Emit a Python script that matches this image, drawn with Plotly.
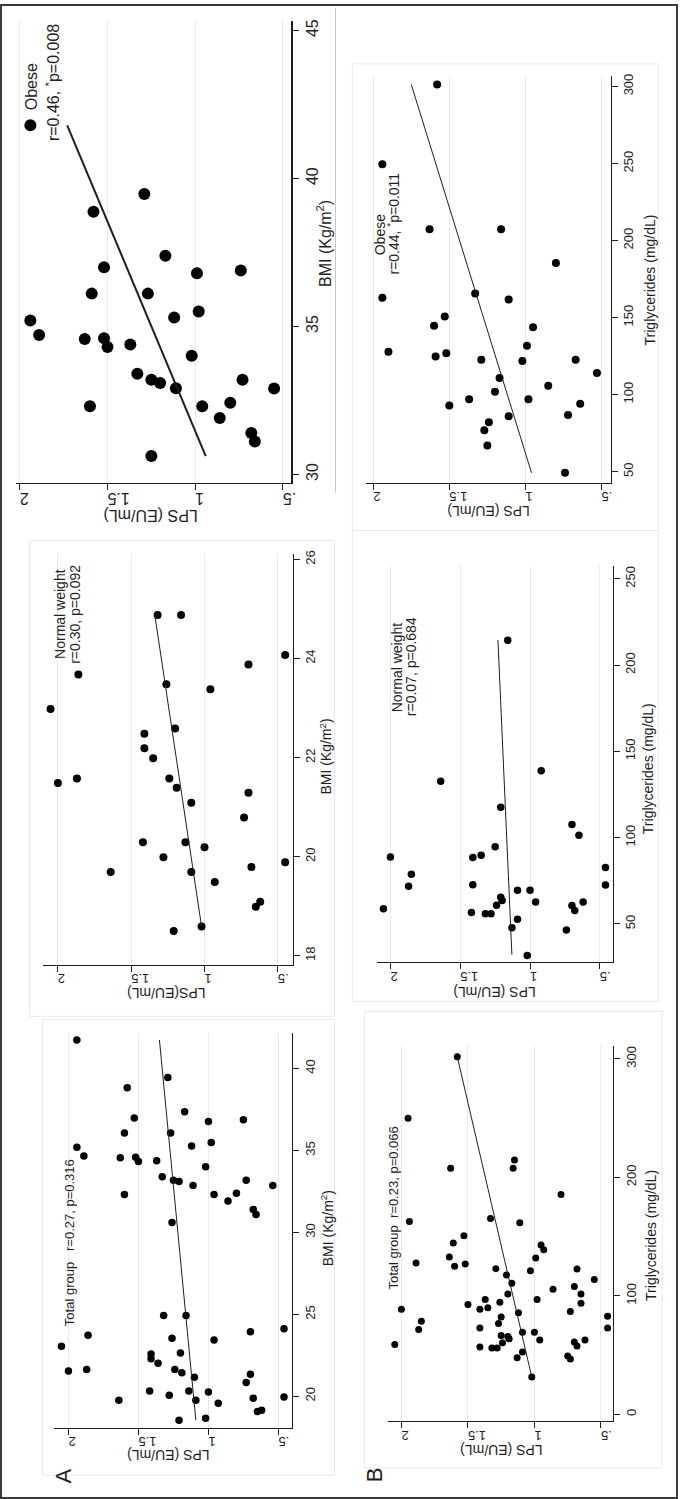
import plotly.graph_objects as go

W, H = 683, 1499

# ---------------- data ----------------
lps_tickvals = [0.5, 1, 1.5, 2]
lps_ticktext = [".5", "1", "1.5", "2"]

bmi_ticks_obese = [30, 35, 40, 45]
bmi_ticks_normal = [18, 20, 22, 24, 26]
bmi_ticks_total = [20, 25, 30, 35, 40]
tg_ticks_obese = [50, 100, 150, 200, 250, 300]
tg_ticks_normal = [50, 100, 150, 200, 250]
tg_ticks_total = [0, 100, 200, 300]

# Obese – BMI
bmi_obese = [35.20, 34.71, 34.58, 32.30, 36.11, 38.88, 37.00, 34.60, 34.31, 34.39,
             33.40, 39.48, 36.11, 30.62, 33.20, 33.09, 37.39, 35.30, 32.91, 34.01,
             36.80, 35.51, 32.30, 31.91, 32.42, 36.89, 33.20, 31.40, 31.11, 32.90, 41.80]
lps_bmi_obese = [1.94, 1.89, 1.63, 1.60, 1.59, 1.58, 1.52, 1.52, 1.50, 1.37,
                 1.33, 1.29, 1.27, 1.25, 1.25, 1.20, 1.17, 1.12, 1.11, 1.02,
                 0.99, 0.98, 0.96, 0.86, 0.80, 0.74, 0.73, 0.68, 0.66, 0.55, 1.94]
fit_bmi_obese = [30.62, 41.80]
fit_lps_bmi_obese = [0.94, 1.73]

# Normal weight – BMI
bmi_normal = [22.98, 21.49, 23.68, 21.58, 19.69, 20.29, 22.48, 22.19, 21.99, 24.88,
              19.99, 23.48, 21.58, 18.50, 22.59, 21.39, 24.88, 20.29, 21.09, 19.69,
              18.59, 20.19, 23.38, 19.49, 20.79, 23.88, 21.29, 19.79, 18.99, 19.09,
              19.89, 24.07]
lps_bmi_normal = [2.05, 2.00, 1.86, 1.87, 1.64, 1.42, 1.41, 1.41, 1.35, 1.32,
                  1.28, 1.26, 1.24, 1.21, 1.20, 1.19, 1.16, 1.13, 1.09, 1.09,
                  1.02, 1.00, 0.96, 0.93, 0.73, 0.70, 0.70, 0.68, 0.65, 0.62,
                  0.45, 0.45]
fit_bmi_normal = [18.59, 24.90]
fit_lps_bmi_normal = [1.02, 1.34]

# Total group – BMI
bmi_total = [23.06, 21.54, 41.74, 35.19, 34.67, 21.64, 23.73, 19.76, 34.56, 32.31,
             36.06, 38.82, 36.98, 34.58, 34.32, 20.32, 22.58, 22.29, 34.38, 22.01,
             33.39, 24.93, 39.45, 20.06, 36.06, 30.61, 23.55, 33.18, 21.64, 18.54,
             33.10, 22.64, 21.44, 37.36, 24.93, 20.32, 35.27, 32.86, 21.16, 19.76,
             34.00, 18.66, 20.26, 36.77, 35.48, 23.43, 32.31, 19.57, 31.91, 32.39,
             36.88, 20.85, 33.18, 23.94, 21.34, 19.88, 31.40, 31.10, 19.07, 19.15,
             32.86, 19.96, 24.12]
lps_bmi_total = [2.05, 2.00, 1.94, 1.94, 1.89, 1.87, 1.86, 1.64, 1.63, 1.60,
                 1.60, 1.58, 1.53, 1.52, 1.50, 1.42, 1.41, 1.41, 1.37, 1.36,
                 1.33, 1.32, 1.29, 1.28, 1.27, 1.26, 1.26, 1.25, 1.24, 1.21,
                 1.21, 1.20, 1.19, 1.17, 1.16, 1.14, 1.12, 1.11, 1.10, 1.09,
                 1.02, 1.02, 1.00, 1.00, 0.98, 0.96, 0.96, 0.93, 0.86, 0.80,
                 0.75, 0.73, 0.73, 0.70, 0.70, 0.68, 0.68, 0.66, 0.65, 0.62,
                 0.54, 0.46, 0.46]
fit_bmi_total = [18.54, 41.74]
fit_lps_bmi_total = [1.09, 1.35]

# Obese – triglycerides
tg_obese = [162.8, 249.5, 127.8, 207.4, 144.7, 124.8, 150.7, 126.8, 92.9, 97.0,
            165.6, 122.7, 76.9, 67.0, 82.1, 101.9, 110.8, 207.4, 86.0, 161.7,
            121.8, 131.7, 97.0, 143.8, 105.8, 185.4, 49.3, 86.8, 122.7, 94.0,
            114.0, 301.3]
lps_tg_obese = [1.94, 1.94, 1.90, 1.63, 1.60, 1.59, 1.53, 1.52, 1.50, 1.37,
                1.33, 1.29, 1.27, 1.25, 1.24, 1.20, 1.17, 1.16, 1.11, 1.11,
                1.02, 0.99, 0.98, 0.95, 0.85, 0.80, 0.74, 0.72, 0.67, 0.64,
                0.53, 1.58]
fit_tg_obese = [49.3, 301.3]
fit_lps_tg_obese = [0.96, 1.75]

# Normal weight – triglycerides
tg_normal = [58.7, 88.7, 71.8, 78.7, 132.7, 56.6, 88.5, 72.7, 89.7, 55.8,
             55.8, 94.7, 60.8, 117.6, 65.4, 63.5, 214.4, 47.7, 69.5, 52.7,
             31.7, 69.5, 62.7, 138.8, 46.5, 107.6, 60.6, 57.7, 101.4, 62.7,
             82.6, 72.5]
lps_tg_normal = [2.05, 2.00, 1.87, 1.85, 1.64, 1.42, 1.41, 1.41, 1.35, 1.32,
                 1.28, 1.25, 1.24, 1.21, 1.21, 1.20, 1.16, 1.13, 1.09, 1.09,
                 1.02, 1.00, 0.96, 0.92, 0.74, 0.70, 0.70, 0.68, 0.65, 0.62,
                 0.46, 0.46]
fit_tg_normal = [32.1, 214.5]
fit_lps_tg_normal = [1.13, 1.23]

# Total group – triglycerides
tg_total = [58.9, 88.7, 249.8, 162.8, 127.7, 71.6, 78.6, 132.8, 207.7, 144.5,
            124.9, 301.7, 150.7, 126.9, 92.6, 56.7, 88.7, 72.7, 96.8, 89.8,
            165.3, 55.9, 122.9, 55.9, 76.6, 94.6, 82.0, 60.3, 66.5, 117.6,
            101.6, 65.7, 63.7, 110.6, 207.7, 214.7, 47.7, 85.6, 161.7, 69.3,
            52.5, 121.2, 31.4, 69.3, 131.9, 96.8, 62.6, 142.9, 138.9, 105.5,
            185.5, 49.1, 46.6, 86.7, 60.9, 107.8, 57.5, 122.6, 101.6, 93.7,
            62.6, 113.7, 82.8, 72.7]
lps_tg_total = [2.05, 2.00, 1.95, 1.94, 1.89, 1.87, 1.85, 1.64, 1.63, 1.61,
                1.60, 1.58, 1.53, 1.52, 1.50, 1.41, 1.41, 1.41, 1.37, 1.35,
                1.33, 1.32, 1.29, 1.28, 1.27, 1.26, 1.25, 1.24, 1.25, 1.21,
                1.20, 1.20, 1.19, 1.17, 1.16, 1.15, 1.13, 1.12, 1.11, 1.09,
                1.09, 1.03, 1.02, 1.00, 0.99, 0.98, 0.96, 0.95, 0.93, 0.86,
                0.80, 0.75, 0.73, 0.73, 0.70, 0.70, 0.68, 0.68, 0.65, 0.65,
                0.62, 0.55, 0.45, 0.45]
fit_tg_total = [31.4, 301.7]
fit_lps_tg_total = [1.02, 1.58]

# ---------------- layout helpers ----------------
FONT = "Liberation Sans, Arial, sans-serif"
INK = "#1e1e1e"


def pxx(x):
    return x / W


def pyy(y):
    return 1 - y / H


fig = go.Figure()

panels = [
    dict(y=bmi_obese, x=lps_bmi_obese, fy=fit_bmi_obese, fx=fit_lps_bmi_obese, yt=bmi_ticks_obese,
         dx=(16, 293.3), dy=(17, 480), xr=(2.0226, 0.4528), yr=(29.719, 45.326), ms=12, lw=2, fs=16, alw=1.5),
    dict(y=bmi_normal, x=lps_bmi_normal, fy=fit_bmi_normal, fx=fit_lps_bmi_normal, yt=bmi_ticks_normal,
         dx=(43.3, 294.7), dy=(551.7, 963.3), xr=(2.1016, 0.3995), yr=(17.819, 26.107), ms=8, lw=1, fs=13, alw=1),
    dict(y=bmi_total, x=lps_bmi_total, fy=fit_bmi_total, fx=fit_lps_bmi_total, yt=bmi_ticks_total,
         dx=(54.3, 294.3), dy=(1031.7, 1427.7), xr=(2.104, 0.4019), yr=(18.073, 42.171), ms=7.5, lw=1, fs=13, alw=1),
    dict(y=tg_obese, x=lps_tg_obese, fy=fit_tg_obese, fx=fit_lps_tg_obese, yt=tg_ticks_obese,
         dx=(368.3, 615.3), dy=(71.7, 480), xr=(2.05, 0.4391), yr=(42.83, 307.1), ms=8, lw=1, fs=13, alw=1),
    dict(y=tg_normal, x=lps_tg_normal, fy=fit_tg_normal, fx=fit_lps_tg_normal, yt=tg_ticks_normal,
         dx=(379.3, 617.3), dy=(563.3, 961), xr=(2.0995, 0.4076), yr=(27.65, 257.5), ms=7.5, lw=1, fs=13, alw=1),
    dict(y=tg_total, x=lps_tg_total, fy=fit_tg_total, fx=fit_lps_tg_total, yt=tg_ticks_total,
         dx=(390.7, 617.7), dy=(1045, 1421), xr=(2.102, 0.408), yr=(-5.89, 310.7), ms=7, lw=1, fs=13, alw=1),
]

layout_axes = {}
for i, p in enumerate(panels, start=1):
    s = "" if i == 1 else str(i)
    fig.add_trace(go.Scatter(x=p["x"], y=p["y"], mode="markers",
                             marker=dict(color="black", size=p["ms"], line=dict(width=0)),
                             xaxis="x" + s, yaxis="y" + s, showlegend=False, hoverinfo="skip"))
    fig.add_trace(go.Scatter(x=p["fx"], y=p["fy"], mode="lines",
                             line=dict(color=INK, width=p["lw"]),
                             xaxis="x" + s, yaxis="y" + s, showlegend=False, hoverinfo="skip"))
    layout_axes["xaxis" + s] = dict(
        domain=[pxx(p["dx"][0]), pxx(p["dx"][1])], range=list(p["xr"]), anchor="y" + s,
        tickmode="array", tickvals=lps_tickvals, ticktext=lps_ticktext, tickangle=180,
        ticks="outside", ticklen=6, tickwidth=1, tickcolor=INK,
        showline=True, linecolor=INK, linewidth=p["alw"], showgrid=True, gridcolor="#e9e9e9",
        gridwidth=1, zeroline=False, tickfont=dict(family=FONT, size=p["fs"], color=INK),
        fixedrange=True)
    layout_axes["yaxis" + s] = dict(
        domain=[pyy(p["dy"][1]), pyy(p["dy"][0])], range=list(p["yr"]), anchor="x" + s,
        side="right", tickmode="array", tickvals=p["yt"], tickangle=-90,
        ticks="outside", ticklen=6, tickwidth=1, tickcolor=INK,
        showline=True, linecolor=INK, linewidth=p["alw"], showgrid=False, zeroline=False,
        tickfont=dict(family=FONT, size=p["fs"], color=INK), fixedrange=True)

# text labels: (text, x px, y px, size, angle)
labels = [
    ("Obese", 31.7, 83, 16, -90),
    ("r=0.46, <sup>*</sup>p=0.008", 52.7, 79, 16, -90),
    ("BMI (Kg/m<sup>2</sup>)", 327, 240, 16, -90),
    ("LPS (EU/mL)", 152, 513, 16, 180),

    ("Normal weight", 61, 612, 14, -90),
    ("r=0.30, p=0.092", 76, 612, 14, -90),
    ("BMI (Kg/m<sup>2</sup>)", 328, 755, 14, -90),
    ("LPS(EU/mL)", 167, 991, 14, 180),

    ("Total group\u00a0\u00a0\u00a0r=0.27, p=0.316", 70, 1242, 13, -90),
    ("BMI (Kg/m<sup>2</sup>)", 329, 1228, 14, -90),
    ("LPS (EU/mL)", 170, 1455, 14, 180),
    ("A", 64, 1476, 22, -90),

    ("Obese", 382.7, 231, 14, -90),
    ("r=0.44, <sup>*</sup>p=0.011", 396, 220, 14, -90),
    ("Triglycerides (mg/dL)", 655, 277, 14, -90),
    ("LPS (EU/mL)", 492, 509, 14, 180),

    ("Normal weight", 400, 665, 14, -90),
    ("r=0.07, p=0.684", 414, 664, 14, -90),
    ("Triglycerides (mg/dL)", 653, 767, 14, -90),
    ("LPS (EU/mL)", 498, 990, 14, 180),

    ("Total group\u00a0\u00a0r=0.23, p=0.066", 396.7, 1207, 13, -90),
    ("Triglycerides (mg/dL)", 655, 1235, 14, -90),
    ("LPS (EU/mL)", 505, 1450, 14, 180),
    ("B", 377, 1475, 22, -90),
]
annotations = [
    dict(text=t, x=pxx(x), y=pyy(y), xref="paper", yref="paper", showarrow=False,
         textangle=a, xanchor="center", yanchor="middle",
         font=dict(family=FONT, size=s, color=INK))
    for (t, x, y, s, a) in labels
]

# faint sub-figure frames and the outer border
frame = dict(type="rect", xref="paper", yref="paper", line=dict(color="#e8e8e8", width=1),
             fillcolor="rgba(0,0,0,0)", layer="below")
frames_px = [
    (30, 538, 337, 1015),
    (43, 1018, 337, 1475),
    (355, 60, 663, 528),
    (355, 528, 663, 1000),
    (367, 1010, 667, 1468),
]
shapes = [dict(frame, x0=pxx(a), y0=pyy(b), x1=pxx(c), y1=pyy(d)) for (a, b, c, d) in frames_px]
shapes.append(dict(type="line", xref="paper", yref="paper", x0=pxx(338), x1=pxx(338),
                   y0=pyy(4), y1=pyy(490), line=dict(color="#c8c8c8", width=1)))
shapes.append(dict(type="rect", xref="paper", yref="paper", x0=pxx(1), y0=pyy(1),
                   x1=pxx(682), y1=pyy(1498), line=dict(color="#3a3a3a", width=2),
                   fillcolor="rgba(0,0,0,0)"))

fig.update_layout(
    width=W, height=H, autosize=False,
    margin=dict(l=0, r=0, t=0, b=0, pad=0),
    paper_bgcolor="white", plot_bgcolor="white",
    showlegend=False,
    annotations=annotations, shapes=shapes,
    font=dict(family=FONT, color=INK),
    **layout_axes,
)

fig.write_html("out.html",
               config={"displayModeBar": False, "staticPlot": True},
               post_script="document.body.style.margin='0';document.body.style.overflow='hidden';")
